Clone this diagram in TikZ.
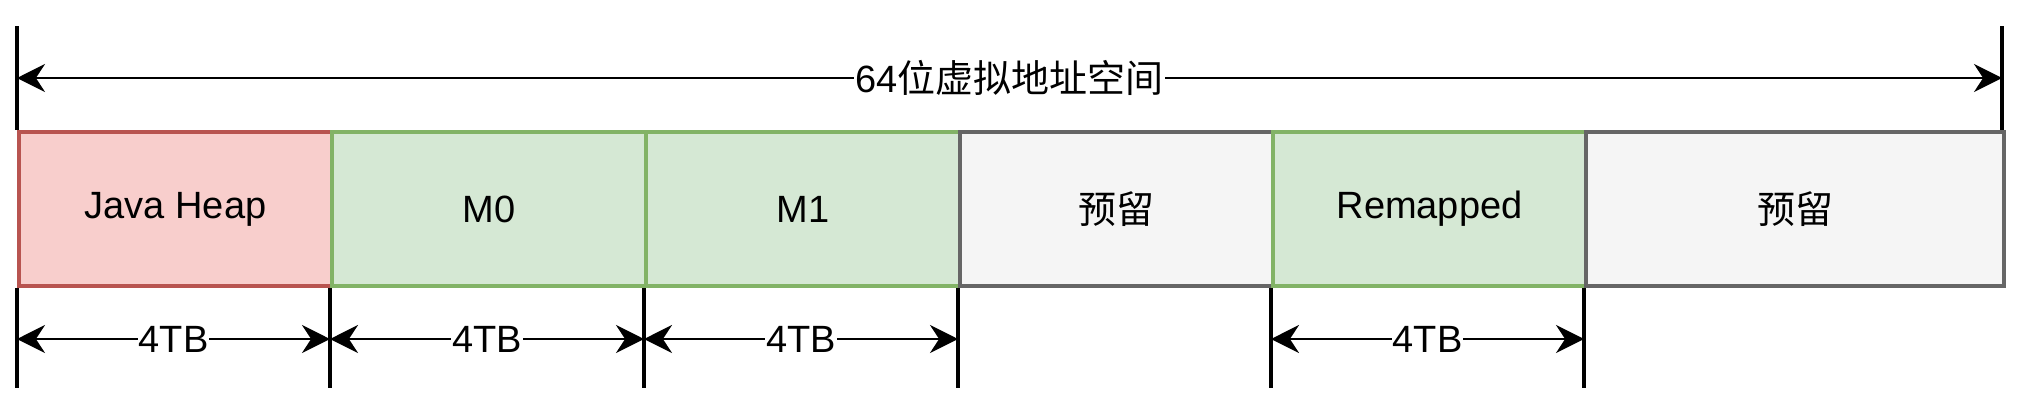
\documentclass[tikz,border=0pt]{standalone}
\usepackage{fontspec}
\setmainfont{Liberation Sans}
\newfontfamily\cjk{Noto Sans CJK SC}
\usetikzlibrary{arrows.meta}
\begin{document}
\begin{tikzpicture}[x=1pt,y=-1pt,
  seg/.style={draw, line width=4, minimum height=154, anchor=north west, inner sep=0, font=\fontsize{38}{44}\selectfont},
  red/.style={fill={rgb,255:red,248;green,206;blue,204}, draw={rgb,255:red,184;green,84;blue,80}},
  grn/.style={fill={rgb,255:red,213;green,232;blue,212}, draw={rgb,255:red,130;green,179;blue,102}},
  gry/.style={fill={rgb,255:red,245;green,245;blue,245}, draw={rgb,255:red,102;green,102;blue,102}},
  tick/.style={line width=4},
  dim/.style={line width=2.5, {Stealth[length=28,width=28]}-{Stealth[length=28,width=28]}},
  lab/.style={fill=white, inner sep=1, font=\fontsize{38}{44}\selectfont}]
\useasboundingbox (0,0) rectangle (2044,408);
\node[seg,red,minimum width=313] (jh) at (17,130) {Java Heap};
\node[seg,grn,minimum width=314] (m0) at (330,130) {M0};
\node[seg,grn,minimum width=314] (m1) at (644,130) {M1};
\node[seg,gry,minimum width=313] (r1) at (958,130) {\cjk 预留};
\node[seg,grn,minimum width=313] (rm) at (1271,130) {Remapped};
\node[seg,gry,minimum width=418] (r2) at (1584,130) {\cjk 预留};
% top ticks
\coordinate (tl) at (17,26); \coordinate (tr) at (2002,26);
\draw[tick] (tl) -- (tl |- jh.north);
\draw[tick] (tr) -- (tr |- r2.north);
\coordinate (al) at (17,78); \coordinate (ar) at (2002,78);
\draw[dim] (al) -- node[lab]{64\cjk 位虚拟地址空间} (ar);
% bottom ticks
\foreach \n/\x in {a/17,b/330,c/644,d/958,e/1271,f/1584}{
  \coordinate (b\n) at (\x,388);
  \coordinate (d\n) at (\x,339);
}
\draw[tick] (jh.south west) -- (ba);
\draw[tick] (m0.south west) -- (bb);
\draw[tick] (m1.south west) -- (bc);
\draw[tick] (r1.south west) -- (bd);
\draw[tick] (rm.south west) -- (be);
\draw[tick] (r2.south west) -- (bf);
\draw[dim] (da) -- node[lab]{4TB} (db);
\draw[dim] (db) -- node[lab]{4TB} (dc);
\draw[dim] (dc) -- node[lab]{4TB} (dd);
\draw[dim] (de) -- node[lab]{4TB} (df);
\end{tikzpicture}
\end{document}
